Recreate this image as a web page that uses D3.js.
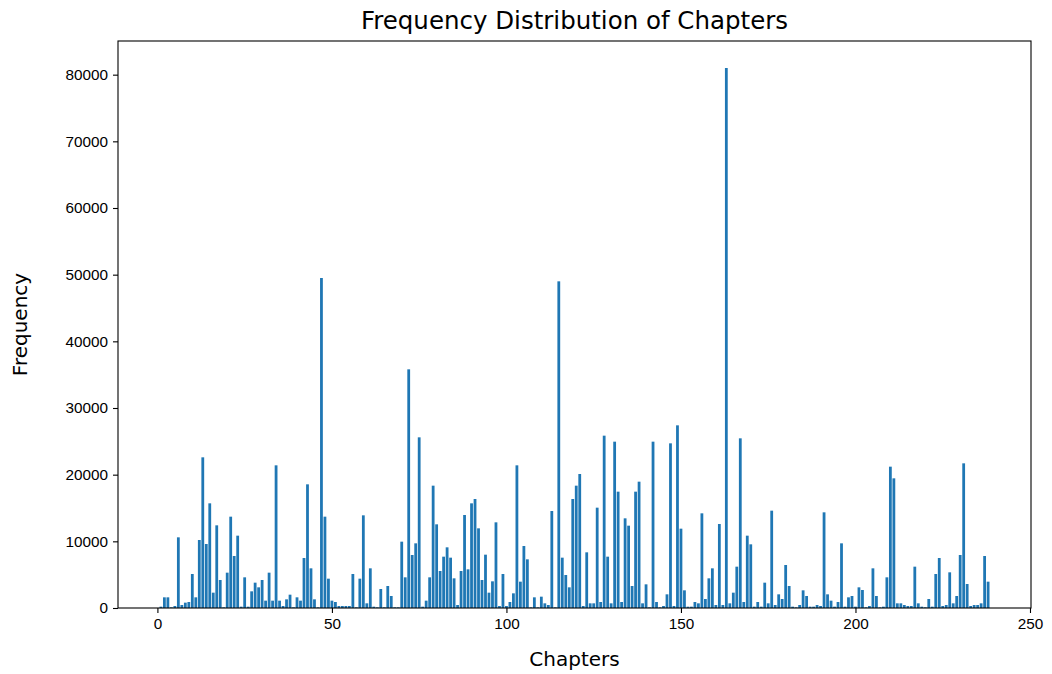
<!DOCTYPE html>
<html>
<head>
<meta charset="utf-8">
<script src="https://cdnjs.cloudflare.com/ajax/libs/d3/7.8.5/d3.min.js"></script>
<style>
  body { margin: 0; background: #fff; }
  svg { display: block; font-family: "DejaVu Sans", sans-serif; }
  .axis text { font-size: 15.3px; fill: #000; }
  .axis path, .axis line { stroke: #000; stroke-width: 1.1; }
</style>
</head>
<body>
<svg width="1052" height="674"></svg>
<script>
// frequency per chapter, chapters 1..238
const frequency = [
    200, 1600, 1600, 100, 300, 10600, 450, 800, 900, 5100,          // 1-10
    1600, 10200, 22600, 9600, 15700, 2300, 12400, 4200, 100, 5300,  // 11-20
    13700, 7800, 10850, 200, 4600, 200, 2500, 3800, 3100, 4200,     // 21-30
    1100, 5300, 1100, 21400, 1100, 300, 1300, 2000, 100, 1600,      // 31-40
    1100, 7500, 18550, 5950, 1300, 100, 49500, 13700, 4400, 1100,   // 41-50
    900, 300, 300, 300, 300, 5100, 100, 4400, 13900, 700,           // 51-60
    5950, 200, 100, 2850, 100, 3300, 1800, 100, 100, 9950,          // 61-70
    4600, 35800, 7950, 9700, 25600, 200, 1100, 4600, 18350, 12550,  // 71-80
    5550, 7700, 9100, 7550, 4450, 450, 5550, 13950, 5800, 15700,    // 81-90
    16350, 11950, 4200, 8000, 2300, 4000, 12850, 300, 5100, 300,    // 91-100
    900, 2200, 21400, 3950, 9300, 7300, 100, 1600, 100, 1700,       // 101-110
    700, 450, 14550, 100, 49000, 7550, 4950, 3100, 16350, 18350,    // 111-120
    20100, 300, 8350, 700, 700, 15050, 900, 25850, 7700, 700,       // 121-130
    24950, 17450, 900, 13450, 12350, 3300, 17450, 18950, 700, 3550, // 131-140
    100, 24950, 900, 100, 300, 2050, 24700, 300, 27400, 11900,      // 141-150
    2650, 200, 200, 900, 700, 14200, 1350, 4450, 5950, 450,         // 151-160
    12600, 450, 81000, 700, 2300, 6200, 25450, 900, 10850, 9550,    // 161-170
    200, 900, 200, 3800, 700, 14600, 450, 2050, 1350, 6450,         // 171-180
    3300, 200, 100, 450, 2650, 1800, 200, 200, 450, 300,            // 181-190
    14350, 2050, 1100, 200, 900, 9700, 200, 1600, 1800, 200,        // 191-200
    3100, 2700, 100, 300, 5950, 1800, 100, 200, 4600, 21200,        // 201-210
    19450, 700, 700, 450, 300, 300, 6200, 700, 200, 100,            // 211-220
    1350, 200, 5100, 7500, 300, 450, 5350, 700, 1800, 7950,         // 221-230
    21700, 3600, 300, 450, 450, 700, 7800, 3950                     // 231-238
];
const chapters = d3.range(1, frequency.length + 1);
const xTicks = [0, 50, 100, 150, 200, 250];
const yTicks = [0, 10000, 20000, 30000, 40000, 50000, 60000, 70000, 80000];

const margin = { top: 41, right: 21, bottom: 66, left: 118 },
    width = 1052 - margin.left - margin.right,
    height = 674 - margin.top - margin.bottom;

const data = chapters.map((c, i) => ({ chapter: c, count: frequency[i] }));

// matplotlib-style 5% padding around the bars
const xMin = d3.min(chapters) - 0.4, xMax = d3.max(chapters) + 0.4;
const pad = (xMax - xMin) * 0.05;
const x = d3.scaleLinear()
    .domain([xMin - pad, xMax + pad])
    .range([0, width]);
const y = d3.scaleLinear()
    .domain([0, d3.max(frequency) * 1.05])
    .range([height, 0]);

const svg = d3.select("svg")
    .append("g")
    .attr("transform", "translate(" + margin.left + "," + margin.top + ")");

// bars
svg.selectAll(".bar")
    .data(data)
    .enter()
    .append("rect")
        .attr("class", "bar")
        .attr("x", d => x(d.chapter - 0.4))
        .attr("width", d => x(d.chapter + 0.4) - x(d.chapter - 0.4))
        .attr("y", d => y(d.count))
        .attr("height", d => height - y(d.count))
        .attr("fill", "#1f77b4");

// axes
svg.append("g")
    .attr("class", "axis")
    .attr("transform", "translate(0," + height + ")")
    .call(d3.axisBottom(x).tickValues(xTicks).tickFormat(d3.format("d"))
        .tickSize(5).tickPadding(5).tickSizeOuter(0))
    .call(g => g.select(".domain").remove());

svg.append("g")
    .attr("class", "axis")
    .call(d3.axisLeft(y).tickValues(yTicks).tickFormat(d3.format("d"))
        .tickSize(5).tickPadding(5).tickSizeOuter(0))
    .call(g => g.select(".domain").remove());

// frame
svg.append("rect")
    .attr("width", width)
    .attr("height", height)
    .attr("fill", "none")
    .attr("stroke", "#000")
    .attr("stroke-width", 1.1);

// title and labels
svg.append("text")
    .attr("x", width / 2)
    .attr("y", -12)
    .attr("text-anchor", "middle")
    .style("font-size", "24.5px")
    .text("Frequency Distribution of Chapters");

svg.append("text")
    .attr("x", width / 2)
    .attr("y", height + 58)
    .attr("text-anchor", "middle")
    .style("font-size", "20px")
    .text("Chapters");

svg.append("text")
    .attr("transform", "rotate(-90)")
    .attr("x", -height / 2)
    .attr("y", -91)
    .attr("text-anchor", "middle")
    .style("font-size", "20px")
    .text("Frequency");
</script>
</body>
</html>
